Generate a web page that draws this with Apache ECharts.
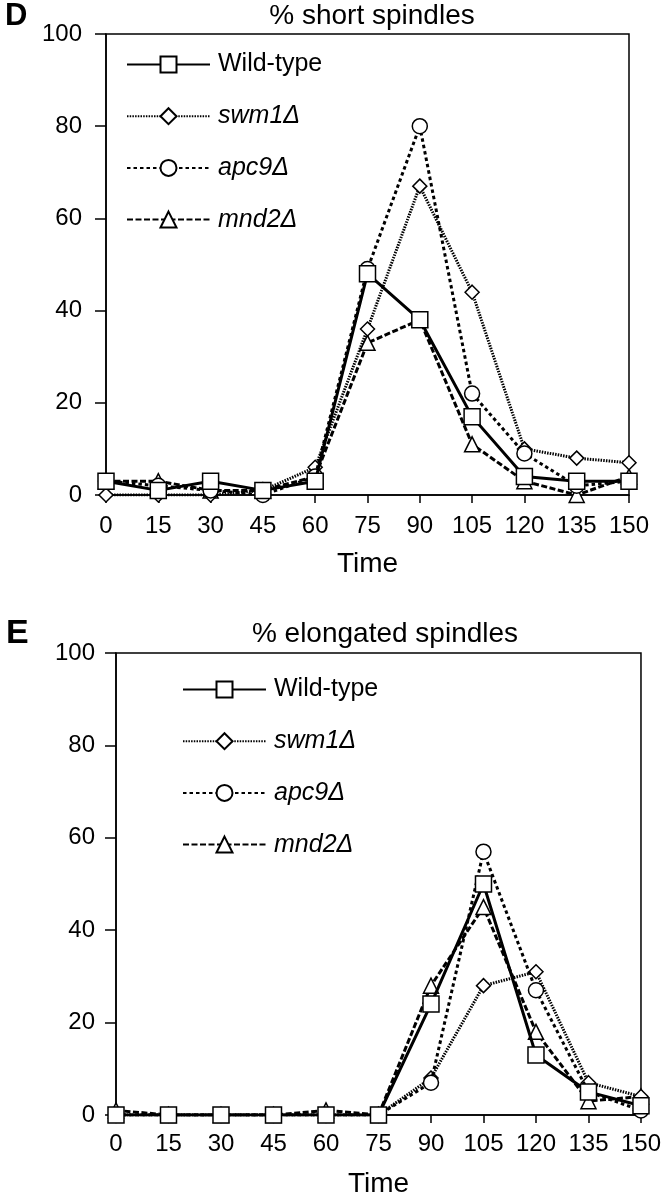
<!DOCTYPE html>
<html>
<head>
<meta charset="utf-8">
<script src="https://cdn.jsdelivr.net/npm/echarts@6/dist/echarts.min.js"></script>
<style>
html,body{margin:0;padding:0;background:#fff;}
#chart{width:664px;height:1199px;}
</style>
</head>
<body>
<div id="chart"></div>
<script>
// ---- data ----
var times = [0, 15, 30, 45, 60, 75, 90, 105, 120, 135, 150];
var seriesNames = ['Wild-type', 'swm1Δ', 'apc9Δ', 'mnd2Δ'];

// Panel D: % short spindles
var shortWT   = [3, 1, 3, 1, 3, 48, 38, 17, 4, 3, 3];
var shortSwm1 = [0, 0, 0, 1, 6, 36, 67, 44, 10, 8, 7];
var shortApc9 = [3, 2, 1, 0, 4, 49, 80, 22, 9, 2, 3];
var shortMnd2 = [3, 3, 1, 1, 4, 33, 38, 11, 3, 0, 4];

// Panel E: % elongated spindles
var elongWT   = [0, 0, 0, 0, 0, 0, 24, 50, 13, 5, 2];
var elongSwm1 = [0, 0, 0, 0, 0, 0, 8, 28, 31, 7, 4];
var elongApc9 = [0, 0, 0, 0, 0, 0, 7, 57, 27, 5, 1];
var elongMnd2 = [1, 0, 0, 0, 1, 0, 28, 45, 18, 3, 4];

var panelTitles = ['% short spindles', '% elongated spindles'];
var panelLetters = ['D', 'E'];
var xName = 'Time';

// ---- styles ----
var FONT = '"Liberation Sans", Arial, Helvetica, sans-serif';
var styles = [
  {symbol: 'rect', size: 16, lineType: 'solid', width: 3, z: 5},
  {symbol: 'diamond', size: 14, lineType: [1.5, 1.2], width: 3, z: 3},
  {symbol: 'circle', size: 15, lineType: [3.5, 3], width: 3, z: 4},
  {symbol: 'triangle', size: 15, lineType: [6, 2.5], width: 3, z: 2}
];

function pairs(vals) {
  return times.map(function (t, i) { return [t, vals[i]]; });
}

function makeSeries(idx, valsList) {
  return valsList.map(function (vals, k) {
    var st = styles[k];
    return {
      type: 'line',
      name: seriesNames[k],
      xAxisIndex: idx, yAxisIndex: idx,
      data: pairs(vals),
      symbol: st.symbol,
      symbolSize: st.size,
      showAllSymbol: true,
      z: st.z,
      lineStyle: {color: '#000', width: st.width, type: st.lineType},
      itemStyle: {color: '#fff', borderColor: '#000', borderWidth: 1.5},
      emphasis: {disabled: true},
      animation: false
    };
  });
}

function xAxis(idx, margin) {
  return {
    type: 'value', gridIndex: idx, min: 0, max: 150, interval: 15,
    name: xName, nameLocation: 'middle', nameGap: 55,
    nameTextStyle: {color: '#000', fontSize: 28, fontFamily: FONT},
    axisLine: {show: true, onZero: false, lineStyle: {color: '#000', width: 1.5}},
    axisTick: {show: true, length: 8, lineStyle: {color: '#000', width: 1.5}},
    axisLabel: {color: '#000', fontSize: 24, fontFamily: FONT, margin: margin, showMaxLabel: true, showMinLabel: true},
    splitLine: {show: false}
  };
}
function yAxis(idx, margin) {
  return {
    type: 'value', gridIndex: idx, min: 0, max: 100, interval: 20,
    axisLine: {show: true, lineStyle: {color: '#000', width: 1.5}},
    axisTick: {show: true, length: 11, lineStyle: {color: '#000', width: 1.5}},
    axisLabel: {color: '#000', fontSize: 24, fontFamily: FONT, margin: margin},
    splitLine: {show: false}
  };
}

function legend(idx, left, top) {
  return {
    data: seriesNames,
    orient: 'vertical',
    left: left, top: top,
    itemWidth: 83, itemHeight: 20, itemGap: 26.7,
    selectedMode: false,
    textStyle: {
      color: '#000', fontSize: 25, fontFamily: FONT,
      padding: [0, 0, 0, 3],
      rich: {i: {fontStyle: 'italic', fontSize: 25, fontFamily: FONT, color: '#000'}}
    },
    formatter: function (n) { return n === 'Wild-type' ? n : '{i|' + n + '}'; }
  };
}

var chart = echarts.init(document.getElementById('chart'), null, {renderer: 'canvas'});
chart.setOption({
  backgroundColor: '#fff',
  animation: false,
  title: [
    {text: panelLetters[0], left: 0, top: -4, textStyle: {fontSize: 31, fontWeight: 'bold', fontFamily: FONT, color: '#000'}},
    {text: panelLetters[1], left: 1, top: 612, textStyle: {fontSize: 34, fontWeight: 'bold', fontFamily: FONT, color: '#000'}},
    {text: panelTitles[0], left: 367, textAlign: 'center', top: -3, textStyle: {fontSize: 28, fontWeight: 'normal', fontFamily: FONT, color: '#000'}},
    {text: panelTitles[1], left: 380, textAlign: 'center', top: 615, textStyle: {fontSize: 28, fontWeight: 'normal', fontFamily: FONT, color: '#000'}}
  ],
  grid: [
    {left: 106, top: 34, width: 523, height: 461, show: true, borderColor: '#000', borderWidth: 1.5, backgroundColor: 'transparent'},
    {left: 116, top: 653, width: 528, height: 465, show: true, borderColor: '#000', borderWidth: 1.5, backgroundColor: 'transparent'}
  ],
  legend: [legend(0, 121, 47), legend(1, 177, 672)],
  xAxis: [xAxis(0, 19), xAxis(1, 17)],
  yAxis: [yAxis(0, 24), yAxis(1, 21)],
  series: makeSeries(0, [shortWT, shortSwm1, shortApc9, shortMnd2])
    .concat(makeSeries(1, [elongWT, elongSwm1, elongApc9, elongMnd2]))
});
</script>
</body>
</html>
